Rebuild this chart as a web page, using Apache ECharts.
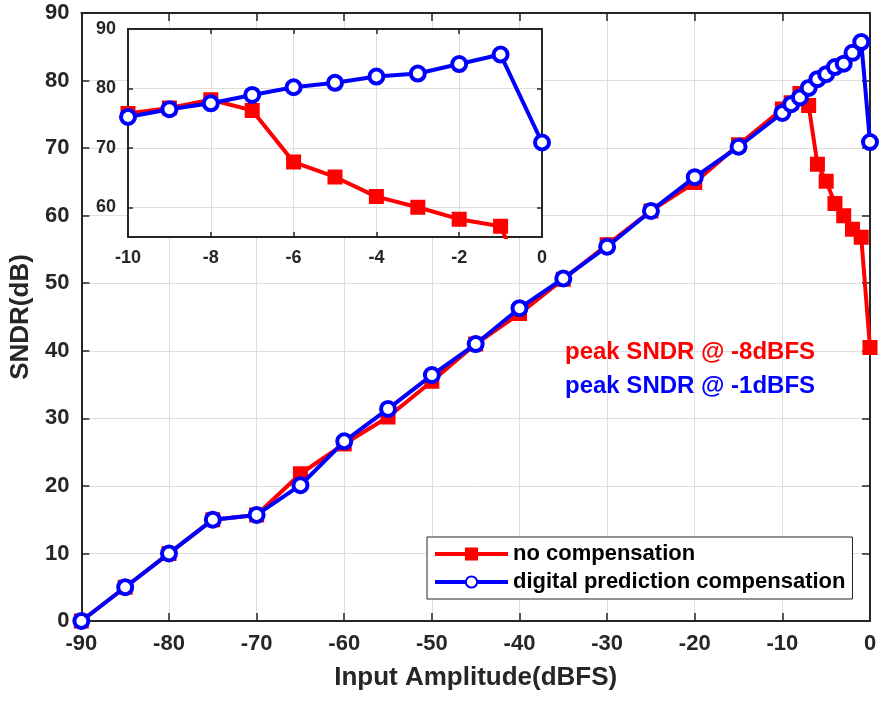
<!DOCTYPE html>
<html><head><meta charset="utf-8">
<script src="https://cdn.jsdelivr.net/npm/echarts@6/dist/echarts.min.js"></script>
<style>html,body{margin:0;padding:0;background:#fff}#c{width:881px;height:702px}</style>
</head><body><div id="c"></div>
<script>
// ---- data ----
const inputAmplitude = [-90,-85,-80,-75,-70,-65,-60,-55,-50,-45,-40,-35,-30,-25,-20,-15,-10,-9,-8,-7,-6,-5,-4,-3,-2,-1,0];
const noCompensation = [0,5,10,15,15.7,21.8,26.2,30.2,35.5,41,45.5,50.6,55.7,60.7,64.9,70.5,75.8,76.7,78.1,76.3,67.6,65.1,61.8,60.0,58.0,56.8,40.5];
const digitalCompensation = [0,5,10,15,15.7,20.1,26.6,31.4,36.4,41,46.3,50.7,55.4,60.7,65.7,70.2,75.2,76.5,77.5,78.9,80.2,80.95,82.0,82.5,84.1,85.7,70.9];
const seriesNames = ['no compensation','digital prediction compensation'];
const mainXTicks = [-90,-80,-70,-60,-50,-40,-30,-20,-10,0];
const mainYTicks = [0,10,20,30,40,50,60,70,80,90];
const insetXTicks = [-10,-8,-6,-4,-2,0];
const insetYTicks = [60,70,80,90];
const annotations = ['peak SNDR @ -8dBFS','peak SNDR @ -1dBFS'];

// ---- build ----
const FONT = '"Liberation Sans", Arial, Helvetica, sans-serif';
const AX = '#262626';
const GRIDC = '#dedede';
const RED = '#ff0000', BLUE = '#0000ff';
const pairs = (ys, minX) => inputAmplitude.map((x,i)=>[x, ys[i]]).filter(p=>p[0]>=minX);

function axisBase(opts){
  return Object.assign({
    type:'value',
    axisLine:{show:true, onZero:false, lineStyle:{color:AX,width:2}},
    axisTick:{show:true, inside:true, length:8, lineStyle:{color:AX,width:1.5}},
    axisLabel:{show:true, fontFamily:FONT, fontWeight:'bold', fontSize:22, color:AX, margin:12},
    splitLine:{show:false}
  }, opts);
}

const redStyle = {symbol:'rect', symbolSize:13, lineStyle:{color:RED,width:4},
  itemStyle:{color:RED, borderColor:RED, borderWidth:2}};
const blueStyle = {symbol:'circle', symbolSize:14, lineStyle:{color:BLUE,width:4},
  itemStyle:{color:'#ffffff', borderColor:BLUE, borderWidth:4}};

const chart = echarts.init(document.getElementById('c'), null, {renderer:'canvas'});
const option = {
  animation:false,
  backgroundColor:'#fff',
  grid:[
    {left:81, top:13, width:789, height:608, show:false},
    {left:128, top:29, width:414, height:208, show:true, backgroundColor:'#fff', borderWidth:0, z:3}
  ],
  xAxis:[
    axisBase({gridIndex:0, min:mainXTicks[0], max:mainXTicks[mainXTicks.length-1], interval:10, position:'bottom',
      splitLine:{show:true, lineStyle:{color:GRIDC,width:1}},
      name:'Input Amplitude(dBFS)', nameLocation:'middle', nameGap:44,
      nameTextStyle:{fontFamily:FONT, fontWeight:'bold', fontSize:26, color:AX}}),
    axisBase({gridIndex:0, min:-90, max:0, interval:10, position:'top', axisLabel:{show:false}}),
    axisBase({gridIndex:1, min:insetXTicks[0], max:insetXTicks[insetXTicks.length-1], interval:2, position:'bottom', z:4,
      axisTick:{show:true, inside:true, length:5, lineStyle:{color:AX,width:1.5}},
      axisLabel:{fontFamily:FONT, fontWeight:'bold', fontSize:18, color:AX, margin:12},
      splitLine:{show:true, lineStyle:{color:GRIDC,width:1}}}),
    axisBase({gridIndex:1, min:-10, max:0, interval:2, position:'top', z:4,
      axisTick:{show:true, inside:true, length:5, lineStyle:{color:AX,width:1.5}},
      axisLabel:{show:false}})
  ],
  yAxis:[
    axisBase({gridIndex:0, min:mainYTicks[0], max:mainYTicks[mainYTicks.length-1], interval:10, position:'left',
      splitLine:{show:true, lineStyle:{color:GRIDC,width:1}},
      name:'SNDR(dB)', nameLocation:'middle', nameGap:45,
      nameTextStyle:{fontFamily:FONT, fontWeight:'bold', fontSize:26, color:AX}}),
    axisBase({gridIndex:0, min:0, max:90, interval:10, position:'right', axisLabel:{show:false}}),
    axisBase({gridIndex:1, min:55, max:90, position:'left', z:4,
      axisTick:{show:true, inside:true, length:5, customValues:insetYTicks, lineStyle:{color:AX,width:1.5}},
      axisLabel:{fontFamily:FONT, fontWeight:'bold', fontSize:18, color:AX, margin:12, customValues:insetYTicks},
      splitLine:{show:true, customValues:insetYTicks, lineStyle:{color:GRIDC,width:1}}}),
    axisBase({gridIndex:1, min:55, max:90, position:'right', z:4,
      axisTick:{show:true, inside:true, length:5, customValues:insetYTicks, lineStyle:{color:AX,width:1.5}},
      axisLabel:{show:false}})
  ],
  legend:{
    show:true, orient:'vertical', left:427, top:537,
    padding:[6,7,6,6], itemGap:6, itemWidth:73, itemHeight:14,
    borderColor:AX, borderWidth:1, backgroundColor:'#fff', z:6,
    lineStyle:{width:4},
    textStyle:{fontFamily:FONT, fontWeight:'bold', fontSize:22, color:'#000', lineHeight:22},
    data:seriesNames
  },
  series:[
    Object.assign({name:seriesNames[0], type:'line', xAxisIndex:0, yAxisIndex:0, data:pairs(noCompensation,-90), z:2}, redStyle),
    Object.assign({name:seriesNames[1], type:'line', xAxisIndex:0, yAxisIndex:0, data:pairs(digitalCompensation,-90), z:3}, blueStyle),
    Object.assign({name:seriesNames[0], type:'line', xAxisIndex:2, yAxisIndex:2, data:pairs(noCompensation,-10), clip:true, z:5}, redStyle),
    Object.assign({name:seriesNames[1], type:'line', xAxisIndex:2, yAxisIndex:2, data:pairs(digitalCompensation,-10), clip:true, z:6}, blueStyle)
  ],
  graphic:[
    {type:'text', left:565, top:340, z:10, style:{text:annotations[0], fill:RED, font:'bold 24px ' + FONT}},
    {type:'text', left:565, top:374, z:10, style:{text:annotations[1], fill:BLUE, font:'bold 24px ' + FONT}}
  ]
};
chart.setOption(option);
</script>
</body></html>
